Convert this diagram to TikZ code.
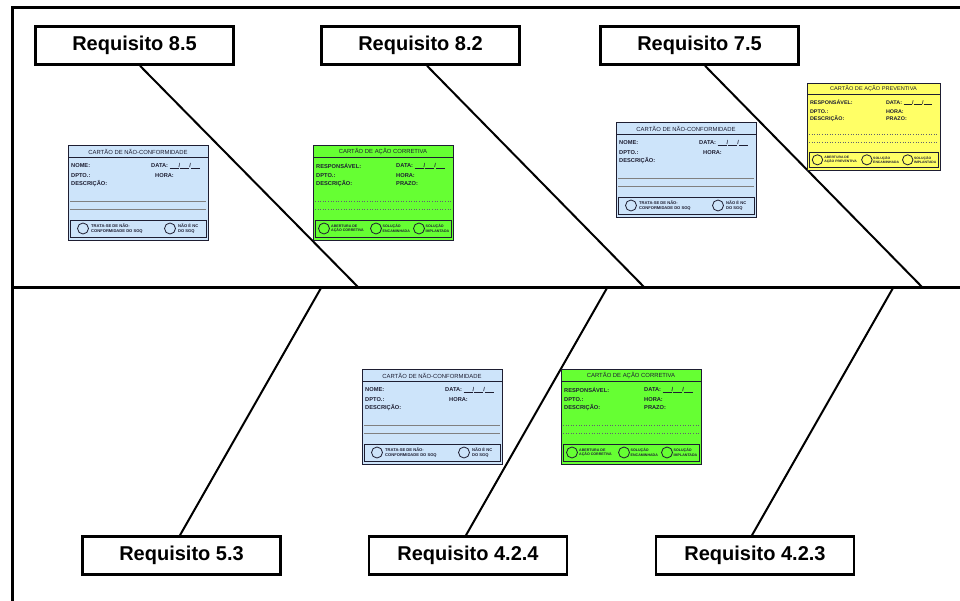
\documentclass[tikz,border=0pt]{standalone}
\usepackage{fontspec}
\setmainfont{Liberation Sans}
\definecolor{ncblue}{RGB}{205,228,250}
\definecolor{acgreen}{RGB}{102,255,51}
\definecolor{pvyellow}{RGB}{255,255,102}
\definecolor{cardink}{RGB}{30,30,50}
\newcommand{\blankfield}{\rule[-0.3pt]{9pt}{0.5pt}/\rule[-0.3pt]{9pt}{0.5pt}/\rule[-0.3pt]{9pt}{0.5pt}}
\tikzset{
  frameline/.style={line width=3pt},
  boneline/.style={line width=2pt},
  req/.style={draw,line width=2.6pt,minimum width=198pt,minimum height=38pt,inner sep=0pt,
    font=\fontsize{20}{20}\selectfont\bfseries,fill=white},
  cardedge/.style={draw=cardink,line width=0.8pt},
  cardtitle/.style={font=\fontsize{5.9}{6.2}\selectfont,inner sep=0pt,text=cardink},
  lab/.style={font=\fontsize{5.7}{6}\selectfont\bfseries,inner sep=0pt,anchor=west,text=cardink},
  tinytxt/.style={font=\fontsize{4.1}{4.5}\selectfont\bfseries,inner sep=0pt,anchor=west,align=left,text=cardink},
  tinyact/.style={tinytxt,font=\fontsize{3.6}{4.3}\selectfont\bfseries},
  pics/nccard/.style={code={
    \draw[cardedge,fill=ncblue] (0,0) rectangle (140,95);
    \draw[cardedge] (0,12) -- (140,12);
    \node[cardtitle] at (70,6.5) {CARTÃO DE NÃO-CONFORMIDADE};
    \node[lab] at (3,21) {NOME:};
    \node[lab] at (83,21) {DATA: \blankfield};
    \node[lab] at (3,31) {DPTO.:};
    \node[lab] at (87,31) {HORA:};
    \node[lab] at (3,39) {DESCRIÇÃO:};
    \draw[gray,line width=0.6pt] (2,56) -- (138,56);
    \draw[gray,line width=0.6pt] (2,64) -- (138,64);
    \draw[cardedge] (2,75) rectangle (138,92);
    \draw[cardedge,fill=ncblue] (15,83.5) circle (5.5);
    \draw[cardedge,fill=ncblue] (102,83.5) circle (5.5);
    \node[tinytxt] at (23,83.5) {TRATA-SE DE NÃO-\\CONFORMIDADE DO SGQ};
    \node[tinytxt] at (110,83.5) {NÃO É NC\\DO SGQ};
  }},
  pics/actcard/.style n args={3}{code={
    \draw[cardedge,fill=#1] (0,0) rectangle (140,95);
    \draw[cardedge] (0,12) -- (140,12);
    \node[cardtitle] at (70,6.5) {#2};
    \node[lab] at (3,21) {RESPONSÁVEL:};
    \node[lab] at (83,21) {DATA: \blankfield};
    \node[lab] at (3,31) {DPTO.:};
    \node[lab] at (83,31) {HORA:};
    \node[lab] at (3,39) {DESCRIÇÃO:};
    \node[lab] at (83,39) {PRAZO:};
    \draw[cardink!70,line width=0.6pt,dotted] (2,56) -- (138,56);
    \draw[cardink!70,line width=0.6pt,dotted] (2,64) -- (138,64);
    \draw[cardedge] (2,75) rectangle (138,92);
    \draw[cardedge,fill=#1] (11,83.5) circle (5.5);
    \draw[cardedge,fill=#1] (63,83.5) circle (5.5);
    \draw[cardedge,fill=#1] (106,83.5) circle (5.5);
    \node[tinyact] at (18,83.5) {ABERTURA DE\\#3};
    \node[tinyact] at (69.5,83.5) {SOLUÇÃO\\ENCAMINHADA};
    \node[tinyact] at (112.5,83.5) {SOLUÇÃO\\IMPLANTADA};
  }},
}
\begin{document}
\begin{tikzpicture}[x=1pt,y=-1pt]
  \useasboundingbox[fill=white] (0,0) rectangle (960,601);
  % frame and spine
  \coordinate (ftl) at (12,8);
  \coordinate (ftr) at (960,8);
  \coordinate (fbl) at (12,601);
  \coordinate (spl) at (12,288);
  \coordinate (spr) at (960,288);
  \draw[frameline] (ftr) -- (ftl) -- (fbl);
  \draw[frameline] (spl) -- (spr);
  % requirement boxes
  \node[req] (r85) at (134.5,45.5) {Requisito 8.5};
  \node[req] (r82) at (420.5,45.5) {Requisito 8.2};
  \node[req] (r75) at (699.5,45.5) {Requisito 7.5};
  \node[req] (r53) at (181.5,555.5) {Requisito 5.3};
  \node[req] (r424) at (468,555.5) {Requisito 4.2.4};
  \node[req] (r423) at (755,555.5) {Requisito 4.2.3};
  % bone ends
  \coordinate (b85) at ([xshift=5.5pt]r85.south);
  \coordinate (b82) at ([xshift=6.5pt]r82.south);
  \coordinate (b75) at ([xshift=5.5pt]r75.south);
  \coordinate (b53) at ([xshift=-1.5pt]r53.north);
  \coordinate (b424) at ([xshift=-2pt]r424.north);
  \coordinate (b423) at ([xshift=-3pt]r423.north);
  \coordinate (s85) at (359,288);
  \coordinate (s82) at (645,288);
  \coordinate (s75) at (923,288);
  \coordinate (s53) at (321,288);
  \coordinate (s424) at (607,288);
  \coordinate (s423) at (893,288);
  \draw[boneline] (b85) -- (s85);
  \draw[boneline] (b82) -- (s82);
  \draw[boneline] (b75) -- (s75);
  \draw[boneline] (s53) -- (b53);
  \draw[boneline] (s424) -- (b424);
  \draw[boneline] (s423) -- (b423);
  % cards
  \pic (c1) at (68,145) {nccard};
  \pic (c2) at (313,145) {actcard={acgreen}{CARTÃO DE AÇÃO CORRETIVA}{AÇÃO CORRETIVA}};
  \pic (c3) at (616,122) {nccard};
  \pic[xscale=0.95,yscale=0.92,transform shape] (c4) at (807,83) {actcard={pvyellow}{CARTÃO DE AÇÃO PREVENTIVA}{AÇÃO PREVENTIVA}};
  \pic (c5) at (362,369) {nccard};
  \pic (c6) at (561,369) {actcard={acgreen}{CARTÃO DE AÇÃO CORRETIVA}{AÇÃO CORRETIVA}};
\end{tikzpicture}
\end{document}
